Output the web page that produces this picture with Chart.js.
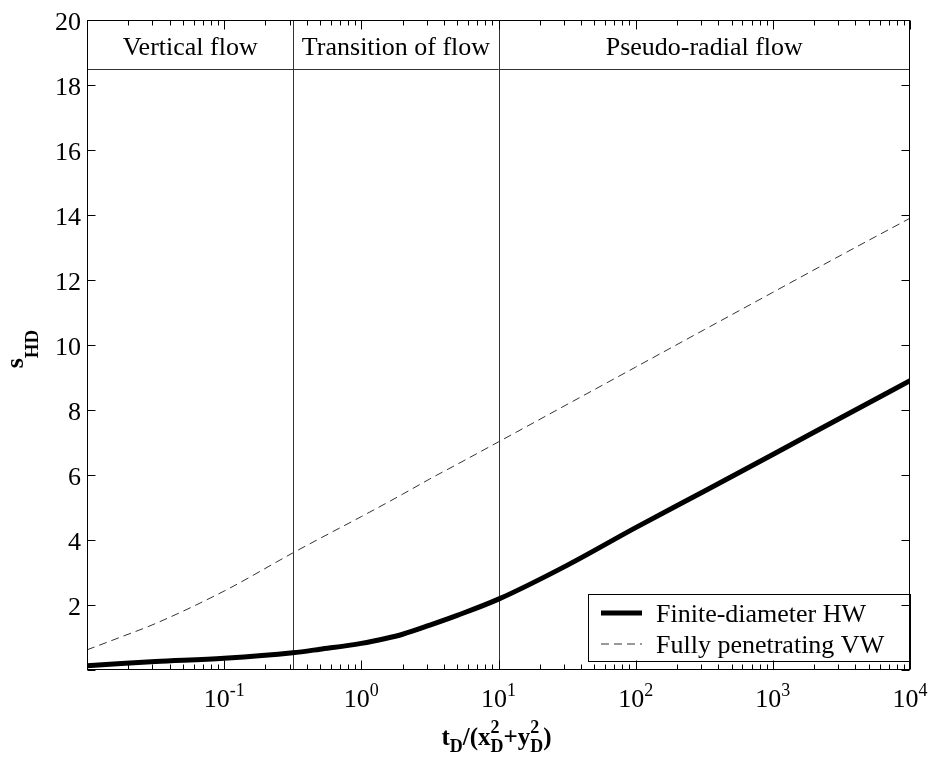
<!DOCTYPE html>
<html>
<head>
<meta charset="utf-8">
<script src="https://cdn.jsdelivr.net/npm/chart.js@4.4.1/dist/chart.umd.min.js"></script>
<style>
  body { margin: 0; background: #fff; }
  #wrap { width: 932px; height: 759px; }
</style>
</head>
<body>
<div id="wrap"><canvas id="chart" width="932" height="759"></canvas></div>
<script>
// dimensionless time t_D/(x_D^2+y_D^2)
const tRatio = [0.01, 0.0178, 0.0316, 0.1, 0.316, 0.5, 1, 1.5, 2, 3.16, 5, 10, 31.6, 100, 316, 1000, 3162, 10000];
// drawdown, finite-diameter horizontal well
const sHorizontal = [0.13, 0.2, 0.26, 0.36, 0.53, 0.64, 0.82, 0.97, 1.1, 1.38, 1.68, 2.18, 3.22, 4.38, 5.5, 6.63, 7.77, 8.9];
// drawdown, fully penetrating vertical well
const sVertical = [0.62, 1.02, 1.43, 2.43, 3.6, 4.05, 4.72, 5.12, 5.41, 5.88, 6.33, 7.02, 8.17, 9.32, 10.47, 11.62, 12.77, 13.9];

const seriesNames = ["Finite-diameter HW", "Fully penetrating VW"];
const yTicks = [0, 2, 4, 6, 8, 10, 12, 14, 16, 18, 20];
const yLabels = ["", "2", "4", "6", "8", "10", "12", "14", "16", "18", "20"];
const xDecades = [-2, -1, 0, 1, 2, 3, 4];
const xLabelExps = ["", "-1", "0", "1", "2", "3", "4"];

// flow regimes
const regionBounds = [0.01, 0.32, 10, 10000];
const regionNames = ["Vertical flow", "Transition of flow", "Pseudo-radial flow"];
const regionTop = 18.5;

const serif = "'Liberation Serif', 'Times New Roman', serif";

function seg(ctx, x1, y1, x2, y2) {
  ctx.beginPath();
  ctx.moveTo(x1, y1);
  ctx.lineTo(x2, y2);
  ctx.stroke();
}

// draws text pieces with sub/superscripts, returns total width
function richText(ctx, parts, x, y, measureOnly) {
  let cx = x;
  parts.forEach(p => {
    if (p.stack) {
      let w = 0;
      p.stack.forEach(s => {
        ctx.font = s.font;
        if (!measureOnly) ctx.fillText(s.t, cx, y + s.dy);
        w = Math.max(w, ctx.measureText(s.t).width);
      });
      cx += w;
    } else {
      ctx.font = p.font;
      if (!measureOnly) ctx.fillText(p.t, cx, y + (p.dy || 0));
      cx += ctx.measureText(p.t).width;
    }
  });
  return cx - x;
}

const decor = {
  id: "decor",
  beforeDatasetsDraw(chart) {
    const { ctx, chartArea: a, scales: { x, y } } = chart;
    ctx.save();
    ctx.strokeStyle = "#333";
    ctx.lineWidth = 1;
    regionBounds.slice(1, -1).forEach(v => {
      const px = Math.round(x.getPixelForValue(v)) + 0.5;
      seg(ctx, px, a.top, px, a.bottom);
    });
    const hy = Math.round(y.getPixelForValue(regionTop)) + 0.5;
    seg(ctx, a.left, hy, a.right, hy);

    ctx.fillStyle = "#000";
    ctx.font = "26px " + serif;
    ctx.textAlign = "center";
    ctx.textBaseline = "alphabetic";
    regionNames.forEach((name, i) => {
      const cx = (x.getPixelForValue(regionBounds[i]) + x.getPixelForValue(regionBounds[i + 1])) / 2;
      ctx.fillText(name, cx, (a.top + hy) / 2 + 10);
    });
    ctx.restore();
  },
  afterDraw(chart) {
    const { ctx, chartArea: a, scales: { x, y } } = chart;
    ctx.save();
    ctx.strokeStyle = "#000";
    ctx.fillStyle = "#000";
    ctx.lineWidth = 1;

    // legend box
    const lx = a.right - 322, ly = a.bottom - 76;
    const lw = 323, lh = 67;
    ctx.fillStyle = "#fff";
    ctx.fillRect(lx, ly, lw, lh);
    ctx.strokeRect(Math.round(lx) + 0.5, Math.round(ly) + 0.5, lw - 1, lh);
    chart.data.datasets.forEach((ds, i) => {
      const rowY = ly + 19 + i * 31;
      ctx.strokeStyle = ds.borderColor;
      ctx.lineWidth = ds.borderWidth;
      ctx.setLineDash(ds.borderDash || []);
      seg(ctx, lx + 13, rowY, lx + 54, rowY);
      ctx.setLineDash([]);
      ctx.fillStyle = "#000";
      ctx.font = "26px " + serif;
      ctx.textAlign = "left";
      ctx.fillText(ds.label, lx + 68, rowY + 9);
    });

    // frame
    ctx.strokeStyle = "#000";
    ctx.lineWidth = 1;
    const L = Math.round(a.left) + 0.5, R = Math.round(a.right) - 0.5;
    const T = Math.round(a.top) + 0.5, B = Math.round(a.bottom) - 0.5;
    ctx.strokeRect(L, T, R - L, B - T);

    // y ticks (inward, both sides) and labels
    ctx.font = "26px " + serif;
    ctx.textAlign = "right";
    ctx.textBaseline = "alphabetic";
    yTicks.forEach((v, i) => {
      const py = Math.round(y.getPixelForValue(v)) + 0.5;
      seg(ctx, L, py, L + 8, py);
      seg(ctx, R, py, R - 8, py);
      if (yLabels[i]) ctx.fillText(yLabels[i], a.left - 6, py + 9);
    });

    // x ticks: major decades and minor 2..9
    xDecades.forEach((d, i) => {
      const base = Math.pow(10, d);
      const px = Math.round(x.getPixelForValue(base)) + 0.5;
      seg(ctx, px, B, px, B - 9);
      seg(ctx, px, T, px, T + 9);
      if (i < xDecades.length - 1) {
        for (let m = 2; m <= 9; m++) {
          const mx = Math.round(x.getPixelForValue(m * base)) + 0.5;
          seg(ctx, mx, B, mx, B - 5);
          seg(ctx, mx, T, mx, T + 5);
        }
      }
      const e = xLabelExps[i];
      if (e) {
        ctx.textAlign = "left";
        const parts = [
          { t: "10", font: "26px " + serif },
          { t: e, font: "18px " + serif, dy: -11 }
        ];
        const w = richText(ctx, parts, 0, 0, true);
        richText(ctx, parts, x.getPixelForValue(base) - w / 2, a.bottom + 37);
      }
    });

    // x axis title
    const bold = "bold 25px " + serif, small = "bold 18px " + serif;
    const xt = [
      { t: "t", font: bold },
      { t: "D", font: small, dy: 7 },
      { t: "/(x", font: bold },
      { stack: [{ t: "D", font: small, dy: 7 }, { t: "2", font: small, dy: -12 }] },
      { t: "+y", font: bold },
      { stack: [{ t: "D", font: small, dy: 7 }, { t: "2", font: small, dy: -12 }] },
      { t: ")", font: bold }
    ];
    ctx.textAlign = "left";
    const xw = richText(ctx, xt, 0, 0, true);
    richText(ctx, xt, (a.left + a.right) / 2 - xw / 2 - 2, a.bottom + 75);

    // y axis title (rotated)
    const yt = [
      { t: "s", font: "bold 26px " + serif },
      { t: "HD", font: "bold 19px " + serif, dy: 15 }
    ];
    const yw = richText(ctx, yt, 0, 0, true);
    ctx.translate(23, (a.top + a.bottom) / 2 + 4 + yw / 2);
    ctx.rotate(-Math.PI / 2);
    richText(ctx, yt, 0, 0);

    ctx.restore();
  }
};

const points = vals => tRatio.map((t, i) => ({ x: t, y: vals[i] }));

new Chart(document.getElementById("chart"), {
  type: "line",
  data: {
    datasets: [
      {
        label: seriesNames[0],
        data: points(sHorizontal),
        borderColor: "#000",
        borderWidth: 5,
        pointRadius: 0,
        cubicInterpolationMode: "monotone",
        fill: false
      },
      {
        label: seriesNames[1],
        data: points(sVertical),
        borderColor: "#333",
        borderWidth: 1,
        borderDash: [8, 5],
        pointRadius: 0,
        cubicInterpolationMode: "monotone",
        fill: false
      }
    ]
  },
  options: {
    responsive: false,
    animation: false,
    layout: { padding: { left: 87, top: 20, right: 22, bottom: 89 } },
    scales: {
      x: { type: "logarithmic", min: 0.01, max: 10000, display: false },
      y: { type: "linear", min: 0, max: 20, display: false }
    },
    plugins: {
      legend: { display: false },
      tooltip: { enabled: false }
    }
  },
  plugins: [decor]
});
</script>
</body>
</html>
